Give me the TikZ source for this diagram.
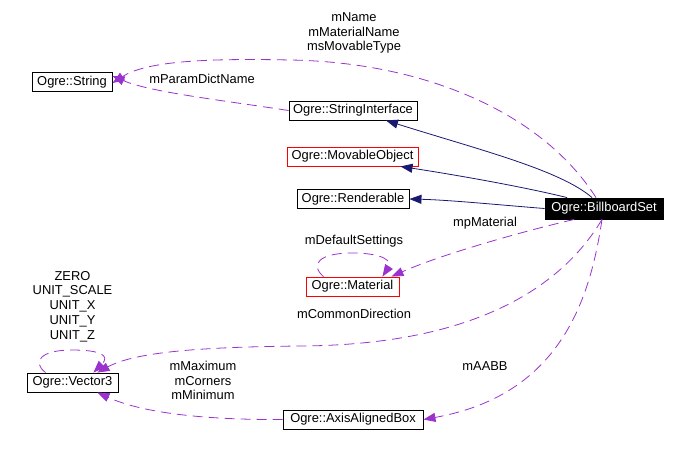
\documentclass[tikz,border=0pt]{standalone}
\usepackage{fontspec}
\setmainfont{Liberation Sans}
\usetikzlibrary{arrows.meta}
\definecolor{edgepurple}{HTML}{9A32CD}
\definecolor{edgenavy}{HTML}{191970}
\begin{document}
\begin{tikzpicture}[x=1pt,y=-1pt,
  font=\fontsize{12.9}{14.6}\selectfont,
  cls/.style={draw=black,line width=0.9pt,minimum height=19pt,inner sep=0pt,fill=white},
  redcls/.style={cls,draw=red},
  main/.style={cls,fill=black,text=white,draw=black,minimum height=21pt},
  lbl/.style={align=center,inner sep=0pt},
  usage/.style={draw=edgepurple,line width=0.8pt,dash pattern=on 10pt off 6pt,
     -{Triangle[length=12pt,width=9pt,fill=edgepurple]}},
  inherit/.style={draw=edgenavy,line width=0.8pt,
     -{Triangle[length=12pt,width=9pt,fill=edgenavy]}}]
\useasboundingbox (0,0) rectangle (687,453);

\node[cls,minimum width=80pt] (str) at (72,82) {Ogre::String};
\node[cls,minimum width=128pt] (si) at (353,110.5) {Ogre::StringInterface};
\node[redcls,minimum width=131pt] (mo) at (352.5,156.5) {Ogre::MovableObject};
\node[cls,minimum width=112pt] (ren) at (353,199) {Ogre::Renderable};
\node[main,minimum width=118pt] (bbs) at (604,208.5) {Ogre::BillboardSet};
\node[redcls,minimum width=93pt] (mat) at (352.5,286.5) {Ogre::Material};
\node[cls,minimum width=91pt] (vec) at (72.5,382.5) {Ogre::Vector3};
\node[cls,minimum width=140pt] (aab) at (353,419.5) {Ogre::AxisAlignedBox};

% labels
\node[lbl] (l1) at (354,33) {mName\\mMaterialName\\msMovableType};
\node[lbl] (l2) at (202,79) {mParamDictName};
\node[lbl] (l3) at (485,223) {mpMaterial};
\node[lbl] (l4) at (354,241) {mDefaultSettings};
\node[lbl] (l5) at (354,314) {mCommonDirection};
\node[lbl] (l6) at (485,366) {mAABB};
\node[lbl,font=\fontsize{12.9}{14.75}\selectfont] (l7) at (72.5,306.5) {ZERO\\UNIT\_SCALE\\UNIT\_X\\UNIT\_Y\\UNIT\_Z};
\node[lbl] (l8) at (203,380.5) {mMaximum\\mCorners\\mMinimum};

% coordinates on nodes
\coordinate (b1) at ([xshift=-8pt]bbs.north);
\coordinate (b2) at ([xshift=-12pt]bbs.north);
\coordinate (b3) at ([xshift=-37pt]bbs.north);
\coordinate (b4) at ([xshift=-30pt]bbs.south);
\coordinate (b5) at ([xshift=-2pt]bbs.south);
\coordinate (s1) at ([yshift=-10pt]str.north east);
\coordinate (s2) at ([yshift=6pt]str.east);
\coordinate (m1) at ([xshift=-8pt]mat.north east);
\coordinate (m2) at ([xshift=-17pt]mat.north east);
\coordinate (m3) at ([xshift=-29pt]mat.north);
\coordinate (v1) at ([xshift=-21pt]vec.north east);
\coordinate (v2) at ([xshift=-27pt]vec.north);
\coordinate (v3) at ([xshift=-21pt]vec.south east);

% inheritance
\draw[inherit] (b2) .. controls (560,170) and (480,150) .. ([xshift=33pt]si.south);
\draw[inherit] (b3) .. controls (520,186) and (450,174) .. ([xshift=48pt]mo.south);
\draw[inherit] (bbs.west) .. controls (500,205) and (450,200) .. (ren.east);

% usage
\draw[usage] (b1) .. controls (540,110) and (420,62) .. (290,60)
  .. controls (200,58) and (145,62) .. ([yshift=-1pt]s1);
\draw[usage] (si.west) .. controls (220,100) and (150,92) .. (s2);
\draw[usage] (b4) .. controls (520,232) and (440,255) .. (m1);
\draw[usage] (m3) .. controls (310,265) and (318,253) .. (352,253)
  .. controls (385,253) and (392,262) .. (m2);
\draw[usage] (b5) .. controls (560,290) and (470,345) .. (300,346)
  .. controls (200,347) and (135,352) .. (v1);
\draw[usage] (v2) .. controls (32,362) and (40,350) .. (72,350)
  .. controls (102,350) and (110,356) .. ([xshift=-4pt]v1);
\draw[usage] (b5) .. controls (590,300) and (560,395) .. (aab.east);
\draw[usage] (aab.west) .. controls (200,420) and (140,412) .. (v3);
\end{tikzpicture}
\end{document}
